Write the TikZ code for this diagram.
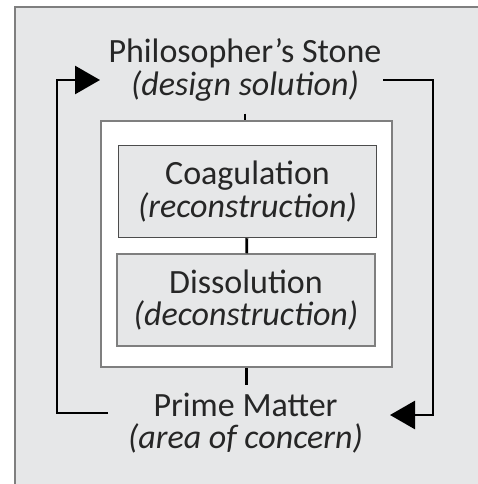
\documentclass[tikz,border=0pt]{standalone}
\usepackage{fontspec}
\setmainfont{Carlito}
\usetikzlibrary{arrows.meta}
\definecolor{panel}{HTML}{E6E7E8}
\definecolor{rim}{HTML}{7F7F7F}

\begin{document}
\begin{tikzpicture}[x=1pt,y=-1pt,
  every node/.style={font=\fontsize{34}{32.5}\selectfont,align=center,text=black!85},
  stage/.style={draw=#1,line width=1.5pt,fill=panel,minimum width=258pt,minimum height=92pt,inner sep=0pt},
  tick/.style={line width=2.8pt},
  loop/.style={line width=2.8pt,-{Triangle[length=25pt,width=28pt]}}]
\useasboundingbox (0,0) rectangle (478,484);
% background panel
\fill[panel] (15,7) rectangle (478,484);
\draw[rim,line width=2pt] (15,484) -- (15,7) -- (478,7);

\node (stone) at (245,70) {Philosopher’s Stone\\\textit{(design solution)}};
\node (matter) at (245.5,423) {Prime Matter\\\textit{(area of concern)}};

\node[draw=rim,line width=1.5pt,fill=white,minimum width=291pt,minimum height=246pt] (white) at (246.5,244) {};
\node[stage=black!70] (coag) at (247.5,191.5) {Coagulation\\\textit{(reconstruction)}};
\node[stage=rim] (diss) at (246,300) {Dissolution\\\textit{(deconstruction)}};

% links
\draw[tick,shorten <=9pt] (stone.south) -- (stone.south |- white.north);
\draw[tick] (coag) -- (diss);
\draw[tick,shorten >=4pt] (white.south) -- (white.south |- matter.north);

% feedback loop
\coordinate (lin) at (108,413);
\coordinate (lcorner) at (57,80);
\coordinate (lout) at (100,80);
\coordinate (rin) at (383,80);
\coordinate (rcorner) at (433,415);
\coordinate (rout) at (390,415);
\draw[loop] (lin) -| (lcorner) -- (lout);
\draw[loop] (rin) -| (rcorner) -- (rout);
\end{tikzpicture}
\end{document}
